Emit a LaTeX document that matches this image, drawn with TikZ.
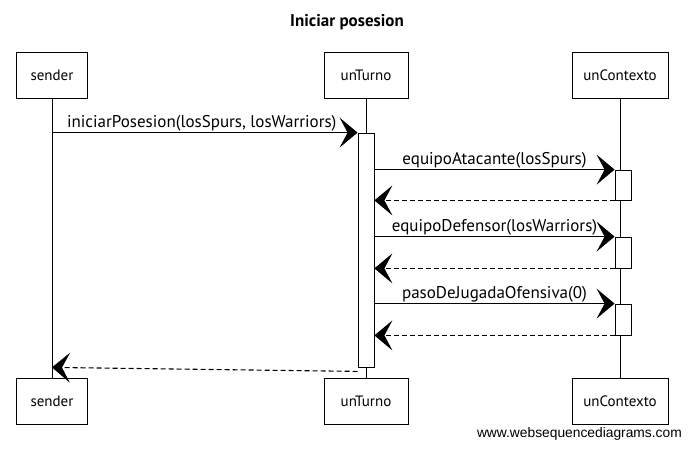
\documentclass[tikz,border=0pt]{standalone}
\usepackage{fontspec}
\setmainfont{PT Sans}
\newfontfamily\wmfont{Liberation Sans}
\usetikzlibrary{arrows.meta}
\begin{document}
\begin{tikzpicture}[x=1pt,y=-1pt,
  actor/.style={draw, line width=0.8pt, minimum height=46pt, inner sep=0pt, font=\fontsize{15}{17}\selectfont},
  lifeline/.style={line width=0.7pt},
  actbox/.style={draw, fill=white, line width=0.8pt, minimum width=16pt, inner sep=0pt},
  msg/.style={line width=1.1pt, -{Stealth[length=18pt,width=30pt,inset=8pt]}},
  ret/.style={msg, dash pattern=on 5pt off 3pt},
  lbl/.style={font=\fontsize{17}{19}\selectfont, inner sep=1pt, anchor=south}]
\useasboundingbox (0,0) rectangle (691,448);
\node[font=\bfseries\fontsize{17}{19}\selectfont] (title) at (347,22) {Iniciar posesion};
% actors
\node[actor, minimum width=71pt] (sTop) at (52,75) {sender};
\node[actor, minimum width=84pt] (tTop) at (366,75) {unTurno};
\node[actor, minimum width=96pt] (cTop) at (620,75) {unContexto};
\node[actor, minimum width=71pt] (sBot) at (52,401.5) {sender};
\node[actor, minimum width=84pt] (tBot) at (366,401.5) {unTurno};
\node[actor, minimum width=96pt] (cBot) at (620,401.5) {unContexto};
% lifelines
\draw[lifeline] (sTop) -- (sBot);
\draw[lifeline] (tTop) -- (tBot);
\draw[lifeline] (cTop) -- (cBot);
% activations
\node[actbox, minimum height=234pt] (aT) at (366,250) {};
\node[actbox, minimum height=30pt] (c1) at (623,185) {};
\node[actbox, minimum height=31pt] (c2) at (623,252.5) {};
\node[actbox, minimum height=31pt] (c3) at (623,319.5) {};
% messages
\draw[msg] (sTop.south |- aT.north) -- node[lbl, pos=0.49] {iniciarPosesion(losSpurs, losWarriors)} (aT.north west);
\draw[msg] (aT.east |- c1.north) -- node[lbl] {equipoAtacante(losSpurs)} (c1.north west);
\draw[ret] (c1.south west) -- (aT.east |- c1.south);
\draw[msg] (aT.east |- c2.north) -- node[lbl] {equipoDefensor(losWarriors)} (c2.north west);
\draw[ret] (c2.south west) -- (aT.east |- c2.south);
\draw[msg] (aT.east |- c3.north) -- node[lbl] {pasoDeJugadaOfensiva(0)} (c3.north west);
\draw[ret] (c3.south west) -- (aT.east |- c3.south);
\draw[ret] ([yshift=-4pt]aT.south west) -- (sTop.south |- aT.south);
% watermark
\node[font=\wmfont\fontsize{13.8}{15}\selectfont, anchor=east, inner sep=0pt] (wm) at (682,434) {www.websequencediagrams.com};
\end{tikzpicture}
\end{document}
